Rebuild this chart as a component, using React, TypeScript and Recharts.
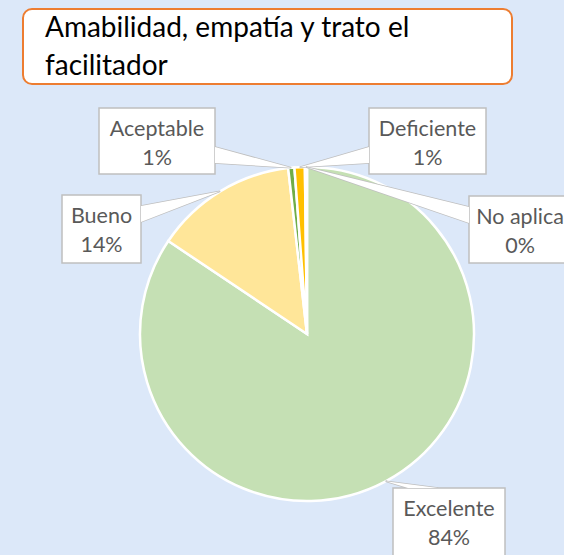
import React from "react";
import { PieChart, Pie, Cell } from "recharts";

const categories = ["Excelente", "Bueno", "Aceptable", "Deficiente", "No aplica"];
const values = [84.4, 13.8, 0.6, 1.0, 0.2];
const sliceColors = ["#C5E0B4", "#FFE699", "#70AD47", "#FFC000", "#9DC3E6"];

// callout boxes, offsets from the pie centre (Excel placed them by hand)
const callouts = [
  { dx: 86, dy: 154, w: 112, h: 68, side: "top" },
  { dx: -245, dy: -139, w: 79, h: 68, side: "right" },
  { dx: -208, dy: -226, w: 116, h: 66, side: "right" },
  { dx: 62, dy: -226, w: 117, h: 66, side: "left" },
  { dx: 162, dy: -138, w: 102, h: 67, side: "left" },
];

const data = categories.map((name, i) => ({ name, value: values[i] }));

const RAD = Math.PI / 180;
const FONT = "Lato, 'Open Sans', sans-serif";

function Callout(props: any) {
  const { cx, cy, midAngle, outerRadius, index, percent, name } = props;
  const c = callouts[index];
  const tipX = cx + outerRadius * Math.cos(-midAngle * RAD);
  const tipY = cy + outerRadius * Math.sin(-midAngle * RAD);
  const x = cx + c.dx;
  const y = cy + c.dy;

  let base: [number, number][];
  if (c.side === "top") {
    base = [
      [x + 15, y],
      [x + 45, y],
    ];
  } else {
    const sx = c.side === "left" ? x : x + c.w;
    const y0 = Math.min(Math.max(tipY - 8, y + 11), y + c.h - 27);
    base = [
      [sx, y0],
      [sx, y0 + 16],
    ];
  }
  const wedge = `M${base[0][0]},${base[0][1]} L${tipX},${tipY} L${base[1][0]},${base[1][1]} Z`;

  return (
    <g>
      <path d={wedge} fill="#fff" stroke="#BFBFBF" strokeWidth={1.5} />
      <rect x={x} y={y} width={c.w} height={c.h} fill="#fff" stroke="#BFBFBF" strokeWidth={1.5} />
      <path d={wedge} fill="#fff" stroke="none" />
      <text
        x={x + c.w / 2}
        y={y + 20}
        textAnchor="middle"
        dominantBaseline="central"
        fill="#595959"
        fontSize={21.5}
        fontFamily={FONT}
      >
        {name}
      </text>
      <text
        x={x + c.w / 2}
        y={y + 49}
        textAnchor="middle"
        dominantBaseline="central"
        fill="#595959"
        fontSize={21.5}
        fontFamily={FONT}
      >
        {Math.round(percent * 100)}%
      </text>
    </g>
  );
}

export default function App() {
  return (
    <div
      style={{
        position: "absolute",
        left: 0,
        top: 0,
        width: 564,
        height: 555,
        background: "#DCE8F9",
        overflow: "hidden",
      }}
    >
      <PieChart width={564} height={555} margin={{ top: 0, right: 0, bottom: 0, left: 0 }}>
        <Pie
          data={data}
          dataKey="value"
          nameKey="name"
          cx={307}
          cy={334}
          outerRadius={167}
          startAngle={90}
          endAngle={-270}
          stroke="#fff"
          strokeWidth={2.5}
          label={Callout}
          labelLine={false}
          isAnimationActive={false}
        >
          {data.map((d, i) => (
            <Cell key={d.name} fill={sliceColors[i]} />
          ))}
        </Pie>
      </PieChart>

      {/* title box */}
      <div
        style={{
          position: "absolute",
          left: 22,
          top: 8,
          width: 487,
          height: 73,
          background: "#fff",
          border: "2px solid #ED7D31",
          borderRadius: 10,
        }}
      >
        <div
          style={{
            position: "absolute",
            left: 21,
            top: -3,
            fontFamily: FONT,
            fontSize: 28,
            lineHeight: "38px",
            color: "#000",
            whiteSpace: "nowrap",
          }}
        >
          Amabilidad, empatía y trato el
          <br />
          facilitador
        </div>
      </div>
    </div>
  );
}
